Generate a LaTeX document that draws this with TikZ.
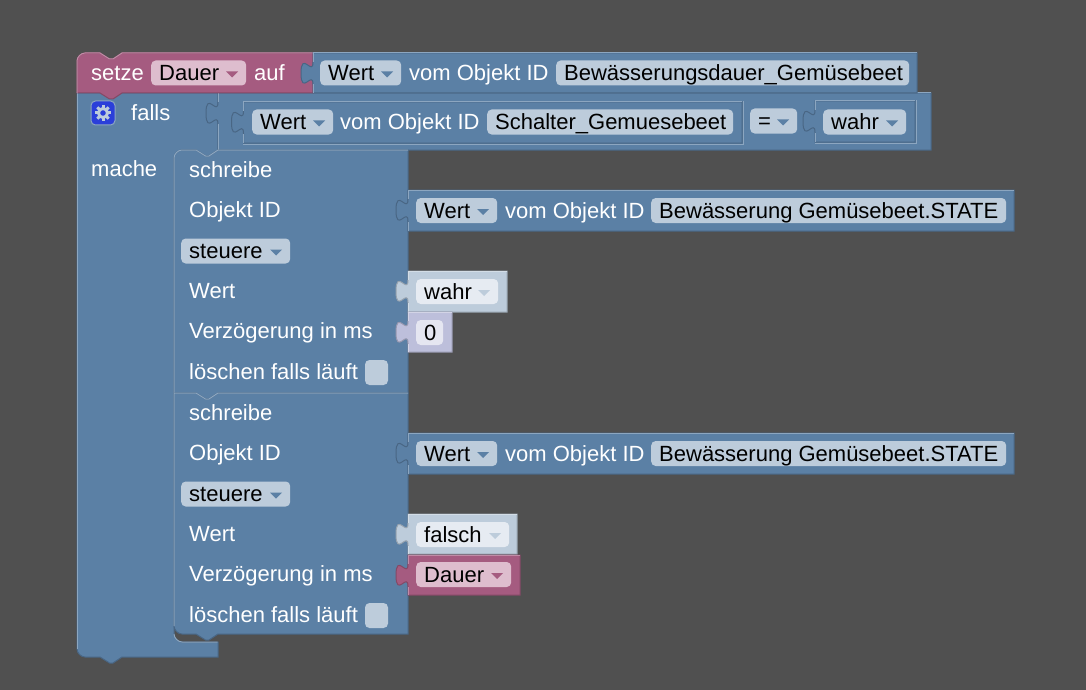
\documentclass[tikz,border=0pt]{standalone}
\usepackage{fontspec}
\setmainfont{Liberation Sans}
\usepackage{xcolor}

\definecolor{bgdark}{HTML}{505050}
\definecolor{bluemain}{HTML}{5B80A5}
\definecolor{bluedark}{HTML}{496684}
\definecolor{bluelight}{HTML}{8CA6C0}
\definecolor{bluefield}{HTML}{BDCCDB}
\definecolor{redmain}{HTML}{A55B80}
\definecolor{reddark}{HTML}{844966}
\definecolor{redlight}{HTML}{C08CA6}
\definecolor{redfield}{HTML}{DEBDCE}
\definecolor{palemain}{HTML}{BDCCDB}
\definecolor{paledark}{HTML}{97A3AF}
\definecolor{palelight}{HTML}{D3DDE6}
\definecolor{palefield}{HTML}{E6EBF2}
\definecolor{lavmain}{HTML}{BDBFDB}
\definecolor{lavdark}{HTML}{9798AF}
\definecolor{lavlight}{HTML}{D3D4E6}
\definecolor{lavfield}{HTML}{E5E6F1}
\definecolor{gearblue}{HTML}{2B3FD9}

% left side puzzle piece, walked upwards
\newcommand{\tabup}[2]{-- (#1,#2+22.5) .. controls (#1,#2+7.5) and (#1-12,#2+34.5) .. (#1-12,#2+11.25) .. controls (#1-12,#2-12) and (#1,#2+15) .. (#1,#2)}
\newcommand{\notchtop}[2]{-- (#1,#2) -- (#1+9.5,#2+6) -- (#1+13,#2+6) -- (#1+22,#2)}
\newcommand{\notchback}[2]{-- (#1+22,#2) -- (#1+13,#2+6) -- (#1+9.5,#2+6) -- (#1,#2)}

\newcommand{\valblock}[5]{
\draw[fill=#5main, draw=#5dark, line width=1pt] (#1,#2) -- (#3,#2) -- (#3,#4) -- (#1,#4) \tabup{#1}{#2+9} -- cycle;
\draw[draw=#5light, line width=1pt] (#1,#4) -- (#1,#2+31.5) (#1,#2+9) -- (#1,#2) -- (#3,#2);
}
\newcommand{\ddfield}[6]{
\pgfmathsetmacro{\fw}{#2-#1-16}
\node[field, fill=#4field, anchor=west] (#5) at (#1,#3) {\makebox[\fw pt][l]{#6}};
\fill[#4main] (#2-20,#3-1.5) -- ++(12,0) -- ++(-6,6) -- cycle;
}

\begin{document}
\begin{tikzpicture}[
x=1pt, y=-1pt,
font=\fontsize{22}{24}\selectfont,
lbl/.style={anchor=west, inner xsep=0pt, inner ysep=1.75pt, text=white, text height=18.5pt, text depth=3pt},
field/.style={rounded corners=4.5pt, inner xsep=8pt, inner ysep=1.75pt, text=black, text height=18.5pt, text depth=3pt},
checkbox/.style={fill=bluefield, rounded corners=4.5pt, minimum width=23pt, minimum height=25pt, inner sep=0pt}
]

\useasboundingbox (0,0) rectangle (1086,690);
\fill[bgdark] (0,0) rectangle (1086,690);

\draw[fill=bluemain, draw=bluedark, line width=1pt] (77,93) -- (218,93) -- (218,150) \notchback{196}{150} -- (182,150) .. controls (178,150) and (174,154) .. (174,158) -- (174,634) .. controls (174,638) and (178,642) .. (182,642) -- (218,642) -- (218,657) \notchback{100}{657} -- (85,657) .. controls (81,657) and (77,653) .. (77,649) -- cycle;
\draw[bluelight, line width=1pt] (77,649) -- (77,93);
\draw[bluelight, line width=1pt] (174,634) .. controls (174,638) and (178,642) .. (182,642) -- (217.5,642);

\valblock{218}{93}{931}{150}{blue}
\draw[bluedark, line width=1pt] (243,144) -- (743,144);
\valblock{243.5}{102}{742}{143}{blue}
\draw[bluelight, line width=1pt] (743.5,101.5) -- (743.5,144.5) -- (243,144.5);
\valblock{815}{101}{915}{142}{blue}
\draw[bluelight, line width=1pt] (916,100.5) -- (916,143.5) -- (815,143.5);

\draw[fill=bluemain, draw=bluedark, line width=1pt] (182,150) \notchtop{196}{150} -- (408,150) -- (408,393) \notchback{196}{393} -- (174,393) -- (174,158) .. controls (174,154) and (178,150) .. (182,150) -- cycle;
\draw[bluelight, line width=1pt] (174,393) -- (174,158) .. controls (174,154) and (178,150) .. (182,150) \notchtop{196}{150} -- (408,150);
\draw[fill=bluemain, draw=bluedark, line width=1pt] (174,393) \notchtop{196}{393} -- (408,393) -- (408,634) \notchback{196}{634} -- (182,634) .. controls (178,634) and (174,630) .. (174,626) -- cycle;
\draw[bluelight, line width=1pt] (174,626) -- (174,393) \notchtop{196}{393} -- (408,393);

\foreach \n/\o in {a/0, b/243} {
\node[lbl] (schreibe\n) at (189,170+\o) {schreibe};
\node[lbl] (objektid\n) at (189,210+\o) {Objekt ID};
\ddfield{181}{290}{251+\o}{blue}{steuere\n}{steuere}
\node[lbl] (wert\n) at (189,291+\o) {Wert};
\node[lbl] (verzoegerung\n) at (189,331+\o) {Verzögerung in ms};
\node[lbl] (loeschen\n) at (189,372+\o) {löschen falls läuft};
\node[checkbox] (check\n) at (376.5,372.5+\o) {};
\valblock{408}{190+\o}{1014}{231+\o}{blue}
\ddfield{416}{497}{210.5+\o}{blue}{wertid\n}{Wert}
\node[lbl] (vom\n) at (505,210.5+\o) {vom Objekt ID};
\node[field, fill=bluefield, anchor=west, minimum width=355pt, align=left] (state\n) at (651,210.5+\o) {\makebox[339pt][l]{Bewässerung Gemüsebeet.STATE}};
}

\valblock{408}{271}{507}{312}{pale}
\ddfield{416}{498}{291.5}{pale}{wahrval}{wahr}
\valblock{408}{312}{452}{352}{lav}
\node[field, fill=lavfield, anchor=west] (nullval) at (416,332.5) {\makebox[11pt][l]{0}};
\valblock{408}{514}{517}{554}{pale}
\ddfield{416}{509}{534.5}{pale}{falschval}{falsch}
\valblock{408}{555}{520}{595}{red}
\ddfield{416}{511}{574.5}{red}{dauerval}{Dauer}

\node[lbl] (falls) at (131,113) {falls};
\node[lbl] (mache) at (91,169) {mache};
\node[draw=bluelight, fill=gearblue, rounded corners=4.5pt, minimum size=24pt, inner sep=0pt, line width=1pt] (gear) at (103,113) {};
\foreach \a in {0,45,...,315} {
\draw[bluefield, line width=3pt] (gear.center) ++(\a:4.5) -- ++(\a:3.5);
}
\draw[bluefield, line width=3pt] (gear.center) circle (4.5);

\ddfield{252}{333}{122}{blue}{wertcond}{Wert}
\node[lbl] (vomcond) at (340,122) {vom Objekt ID};
\node[field, fill=bluefield, anchor=west] (schalter) at (487,122) {\makebox[230pt][l]{Schalter\_Gemuesebeet}};
\ddfield{750}{797}{121}{blue}{gleich}{=}
\ddfield{823}{906}{122}{blue}{wahrcond}{wahr}

\draw[fill=redmain, draw=reddark, line width=1pt] (85,53) \notchtop{100}{53} -- (313,53) -- (313,93) \notchback{100}{93} -- (77,93) -- (77,61) .. controls (77,57) and (81,53) .. (85,53) -- cycle;
\draw[redlight, line width=1pt] (77,93) -- (77,61) .. controls (77,57) and (81,53) .. (85,53) \notchtop{100}{53} -- (313,53);
\node[lbl] (setze) at (91,73) {setze};
\ddfield{151}{246}{73}{red}{dauervar}{Dauer}
\node[lbl] (auf) at (254,73) {auf};

\valblock{313}{53}{917}{93}{blue}
\ddfield{320}{401}{73}{blue}{wertdauer}{Wert}
\node[lbl] (vomdauer) at (409,73) {vom Objekt ID};
\node[field, fill=bluefield, anchor=west] (dauerid) at (556,73) {\makebox[337pt][l]{Bewässerungsdauer\_Gemüsebeet}};

\end{tikzpicture}
\end{document}
